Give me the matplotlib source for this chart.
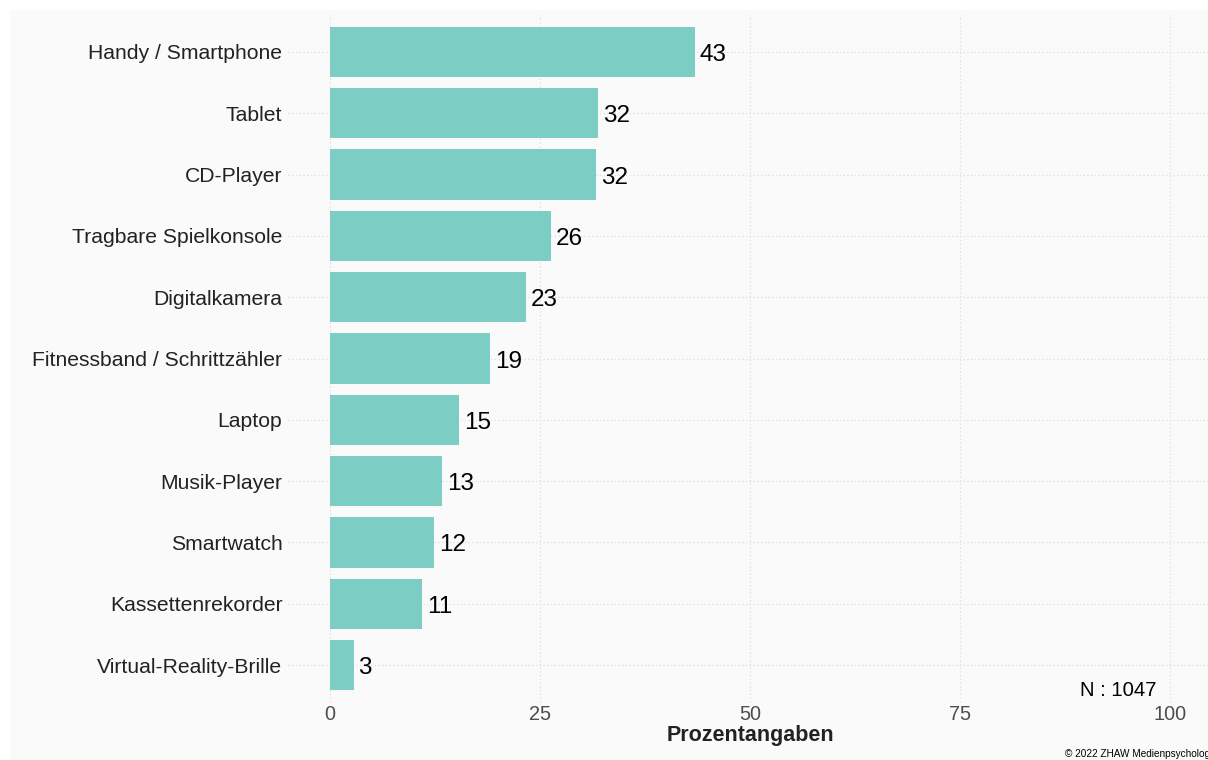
import matplotlib
matplotlib.use("Agg")
import matplotlib.pyplot as plt
from matplotlib.patches import Rectangle

categories = ["Handy / Smartphone", "Tablet", "CD-Player", "Tragbare Spielkonsole",
              "Digitalkamera", "Fitnessband / Schrittzähler", "Laptop", "Musik-Player",
              "Smartwatch", "Kassettenrekorder", "Virtual-Reality-Brille"]
values = [43.4, 31.9, 31.7, 26.3, 23.3, 19.1, 15.4, 13.3, 12.4, 11.0, 2.8]
labels = ["43", "32", "32", "26", "23", "19", "15", "13", "12", "11", "3"]
xticks = [0, 25, 50, 75, 100]
n_text = "N : 1047"
credit = "© 2022 ZHAW Medienpsychologie"

plt.rcParams['font.family'] = ['Liberation Sans', 'DejaVu Sans']

W, H = 1208, 760
fig = plt.figure(figsize=(W/100, H/100), dpi=100)
fig.patch.set_facecolor("white")
fig.patches.append(Rectangle((10/W, 0), 1 - 10/W, 1 - 10/H, transform=fig.transFigure,
                             facecolor="#fafafa", edgecolor="none", zorder=-10))

left, right = 288, 1212
top, bottom = 15.2, 701.8
ax = fig.add_axes([left/W, 1 - bottom/H, (right-left)/W, (bottom-top)/H])
ax.set_facecolor("none")

n = len(categories)
ypos = list(range(n, 0, -1))
ax.barh(ypos, values, height=0.82, color="#7ccdc4", zorder=2)
for y, v, lab in zip(ypos, values, labels):
    ax.text(v + 0.6, y - 0.05, lab, va="center", ha="left", fontsize=17.5, color="black", zorder=3)

ax.set_xlim(-5, 105)
ax.set_ylim(0.4, n + 0.6)
ax.set_yticks(ypos)
ax.set_yticklabels(categories, fontsize=15.2, color="#222222")
ax.set_xticks(xticks)
ax.set_xticklabels([str(t) for t in xticks], fontsize=14.3, color="#4d4d4d")
ax.tick_params(axis="y", length=0, pad=4)
ax.tick_params(axis="x", length=0, pad=2)
ax.grid(True, color="#dddddd", linestyle=(0, (1, 2)), linewidth=0.9, zorder=0)
ax.set_axisbelow(True)
for s in ax.spines.values():
    s.set_visible(False)
ax.set_xlabel("Prozentangaben", fontsize=15.5, fontweight="bold", color="#222222", labelpad=1)

fig.text(1157/W, 1 - 690/H, n_text, ha="right", va="center", fontsize=14.6, color="black")
fig.text(1065/W, 1 - 754/H, credit, ha="left", va="center", fontsize=7.2, color="black")

fig.savefig("out.png", dpi=100)
